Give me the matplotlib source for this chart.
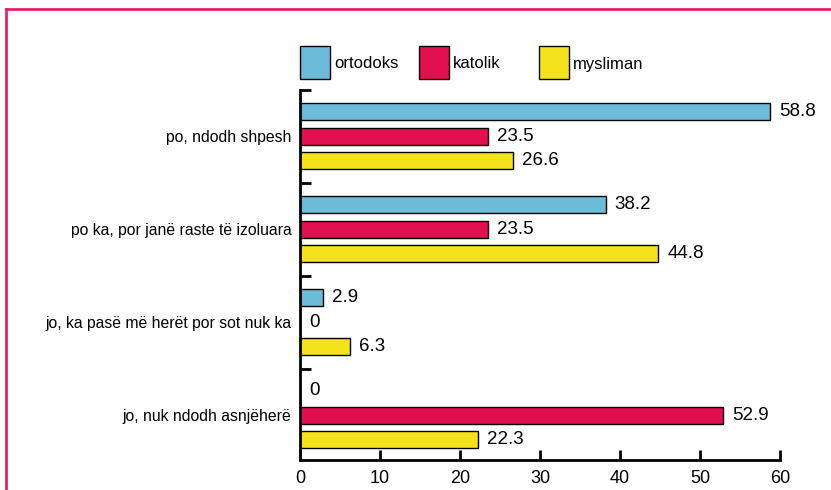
import matplotlib.pyplot as plt
import matplotlib.lines as mlines
import matplotlib.patches as mpatches
import numpy as np

categories = ['po, ndodh shpesh', 'po ka, por janë raste të izoluara',
              'jo, ka pasë më herët por sot nuk ka', 'jo, nuk ndodh asnjëherë']
series = ['ortodoks', 'katolik', 'mysliman']
ortodoks = [58.8, 38.2, 2.9, 0]
katolik = [23.5, 23.5, 0, 52.9]
mysliman = [26.6, 44.8, 6.3, 22.3]
colors = ['#6cbcd9', '#e2104c', '#f4e31c']

plt.rcParams['font.family'] = ['Liberation Sans', 'DejaVu Sans']

W, H = 831, 490
fig = plt.figure(figsize=(W / 100, H / 100), dpi=100)
ax = fig.add_axes([300 / W, 1 - 460 / H, 480 / W, 370.5 / H])

y = np.arange(len(categories))
offsets = [-0.263, 0, 0.263]
for vals, off, col in zip([ortodoks, katolik, mysliman], offsets, colors):
    bars = ax.barh(y + off, vals, height=0.183, color=col, edgecolor='black', linewidth=1)
    for v, b in zip(vals, bars):
        ax.annotate(f'{v:g}', (v, b.get_y() + b.get_height() / 2),
                    xytext=(6.5, 0), textcoords='offset points',
                    va='center', ha='left', fontsize=13.5)

ax.set_xlim(0, 60)
ax.set_ylim(3.478, -0.5)
ax.set_xticks(range(0, 61, 10))
ax.set_yticks(y)
ax.set_yticklabels(categories, fontsize=11.3)
ax.set_yticks([-0.5, 0.5, 1.5, 2.5], minor=True)
ax.tick_params(axis='y', which='major', length=0, pad=6)
ax.tick_params(axis='y', which='minor', direction='in', length=8, width=2)
ax.tick_params(axis='x', direction='in', length=7, width=2, labelsize=13, pad=7)
for s in ['top', 'right']:
    ax.spines[s].set_visible(False)
for s in ['left', 'bottom']:
    ax.spines[s].set_linewidth(2)

# legend boxes along the top
box_x = [300, 419, 539]
for x0, col, name in zip(box_x, colors, series):
    fig.add_artist(mpatches.Rectangle((x0 / W, 1 - 79 / H), 30 / W, 33 / H,
                                      facecolor=col, edgecolor='black', lw=1,
                                      transform=fig.transFigure))
    fig.text((x0 + 34) / W, 1 - 64 / H, name, fontsize=12, va='center', ha='left')

# pink frame of the printed page
fig.add_artist(mlines.Line2D([6 / W, 1], [1 - 9 / H, 1 - 9 / H], color='#e4206e', lw=2))
fig.add_artist(mlines.Line2D([6 / W, 6 / W], [0, 1 - 9 / H], color='#e4206e', lw=2))

fig.savefig('out.png', dpi=100)
